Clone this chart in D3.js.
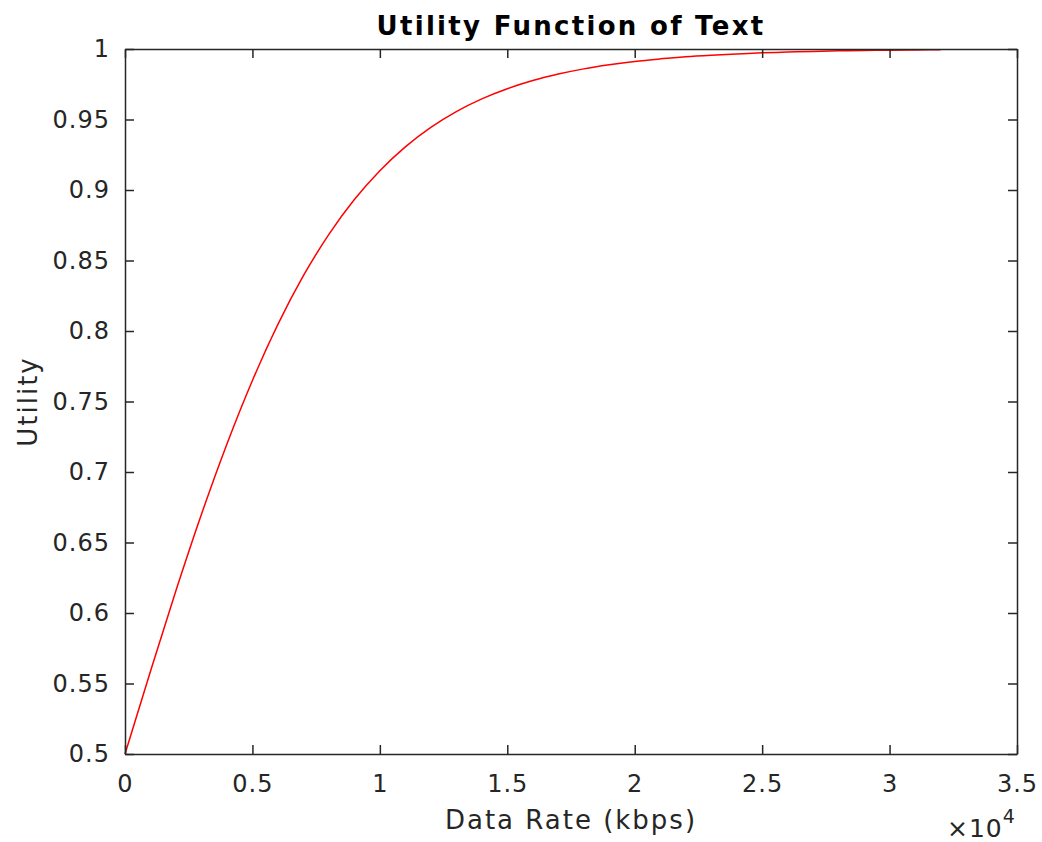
<!DOCTYPE html>
<html>
<head>
<meta charset="utf-8">
<script src="https://cdn.jsdelivr.net/npm/d3@7"></script>
<style>
  body { margin: 0; background: #fff; }
  text { font-family: "DejaVu Sans", sans-serif; }
</style>
</head>
<body>
<div id="chart"></div>
<script>
// data rate in kbps, read every 1000 off the curve
var rates = [0, 1000, 2000, 3000, 4000, 5000, 6000, 7000, 8000, 9000, 10000,
    11000, 12000, 13000, 14000, 15000, 16000, 17000, 18000, 19000, 20000,
    21000, 22000, 23000, 24000, 25000, 26000, 27000, 28000, 29000, 30000,
    31000, 32000];
var utility = [0.5, 0.5587, 0.6159, 0.67, 0.7199, 0.7649, 0.8047, 0.8392, 0.8685, 0.8932, 0.9137,
    0.9306, 0.9444, 0.9556, 0.9646, 0.9718, 0.9776, 0.9822, 0.9859, 0.9888, 0.9912,
    0.993, 0.9945, 0.9956, 0.9965, 0.9973, 0.9978, 0.9983, 0.9987, 0.9989, 0.9992,
    0.9993, 0.9995];
var xTicks = [0, 5000, 10000, 15000, 20000, 25000, 30000, 35000];
var xTickLabels = ["0", "0.5", "1", "1.5", "2", "2.5", "3", "3.5"];
var yTicks = [0.5, 0.55, 0.6, 0.65, 0.7, 0.75, 0.8, 0.85, 0.9, 0.95, 1];
var yTickLabels = ["0.5", "0.55", "0.6", "0.65", "0.7", "0.75", "0.8", "0.85", "0.9", "0.95", "1"];

var width = 1042, height = 842;
var plotLeft = 125, plotRight = 1017, plotTop = 49, plotBottom = 754;
var axisColor = "#262626";

var svg = d3.select("#chart").append("svg")
    .attr("width", width)
    .attr("height", height);

var x = d3.scaleLinear().domain([0, 35000]).range([plotLeft, plotRight]);
var y = d3.scaleLinear().domain([0.5, 1]).range([plotBottom, plotTop]);

var tickLen = 9;

//box with ticks on all four sides, pointing inward
var xAxisB = d3.axisBottom(x).tickValues(xTicks).tickSizeInner(-tickLen).tickSizeOuter(0)
    .tickFormat(function (d, i) { return xTickLabels[i]; });
var xAxisT = d3.axisTop(x).tickValues(xTicks).tickSizeInner(-tickLen).tickSizeOuter(0)
    .tickFormat("");
var yAxisL = d3.axisLeft(y).tickValues(yTicks).tickSizeInner(-tickLen).tickSizeOuter(0)
    .tickFormat(function (d, i) { return yTickLabels[i]; });
var yAxisR = d3.axisRight(y).tickValues(yTicks).tickSizeInner(-tickLen).tickSizeOuter(0)
    .tickFormat("");

function styleAxis(g) {
    g.select(".domain").attr("stroke", axisColor).attr("stroke-width", 1.5);
    g.selectAll(".tick line").attr("stroke", axisColor).attr("stroke-width", 1.5);
    g.selectAll(".tick text")
        .attr("fill", axisColor)
        .attr("font-size", "24px")
        .attr("letter-spacing", "1px")
        .attr("font-family", "DejaVu Sans, sans-serif");
}

//red utility curve
var line = d3.line()
    .x(function (d, i) { return x(rates[i]); })
    .y(function (d) { return y(d); })
    .curve(d3.curveMonotoneX);

svg.append("path")
    .datum(utility)
    .attr("d", line)
    .attr("fill", "none")
    .attr("stroke", "#ff0000")
    .attr("stroke-width", 1.5);

var gB = svg.append("g").attr("transform", "translate(0," + plotBottom + ")").call(xAxisB).call(styleAxis);
gB.selectAll(".tick text").attr("y", 21).attr("dy", "0.71em");
svg.append("g").attr("transform", "translate(0," + plotTop + ")").call(xAxisT).call(styleAxis);
var gL = svg.append("g").attr("transform", "translate(" + plotLeft + ",0)").call(yAxisL).call(styleAxis);
gL.selectAll(".tick text").attr("x", -15);
svg.append("g").attr("transform", "translate(" + plotRight + ",0)").call(yAxisR).call(styleAxis);

//title and labels
svg.append("text")
    .attr("x", (plotLeft + plotRight) / 2)
    .attr("y", 35)
    .attr("text-anchor", "middle")
    .attr("font-size", "26px")
    .attr("font-weight", "bold")
    .attr("letter-spacing", "2.3px")
    .attr("fill", "#000")
    .text("Utility Function of Text");

svg.append("text")
    .attr("x", (plotLeft + plotRight) / 2)
    .attr("y", 829)
    .attr("text-anchor", "middle")
    .attr("font-size", "26px")
    .attr("letter-spacing", "2px")
    .attr("fill", axisColor)
    .text("Data Rate (kbps)");

svg.append("text")
    .attr("transform", "translate(37," + (plotTop + plotBottom) / 2 + ") rotate(-90)")
    .attr("text-anchor", "middle")
    .attr("font-size", "26px")
    .attr("letter-spacing", "2px")
    .attr("fill", axisColor)
    .text("Utility");

//exponent label
var expo = svg.append("text")
    .attr("x", 947)
    .attr("y", 837)
    .attr("font-size", "25px")
    .attr("letter-spacing", "1px")
    .attr("fill", axisColor);
expo.append("tspan").text("\u00d710");
expo.append("tspan").attr("dy", -14).attr("font-size", "19px").text("4");
</script>
</body>
</html>
